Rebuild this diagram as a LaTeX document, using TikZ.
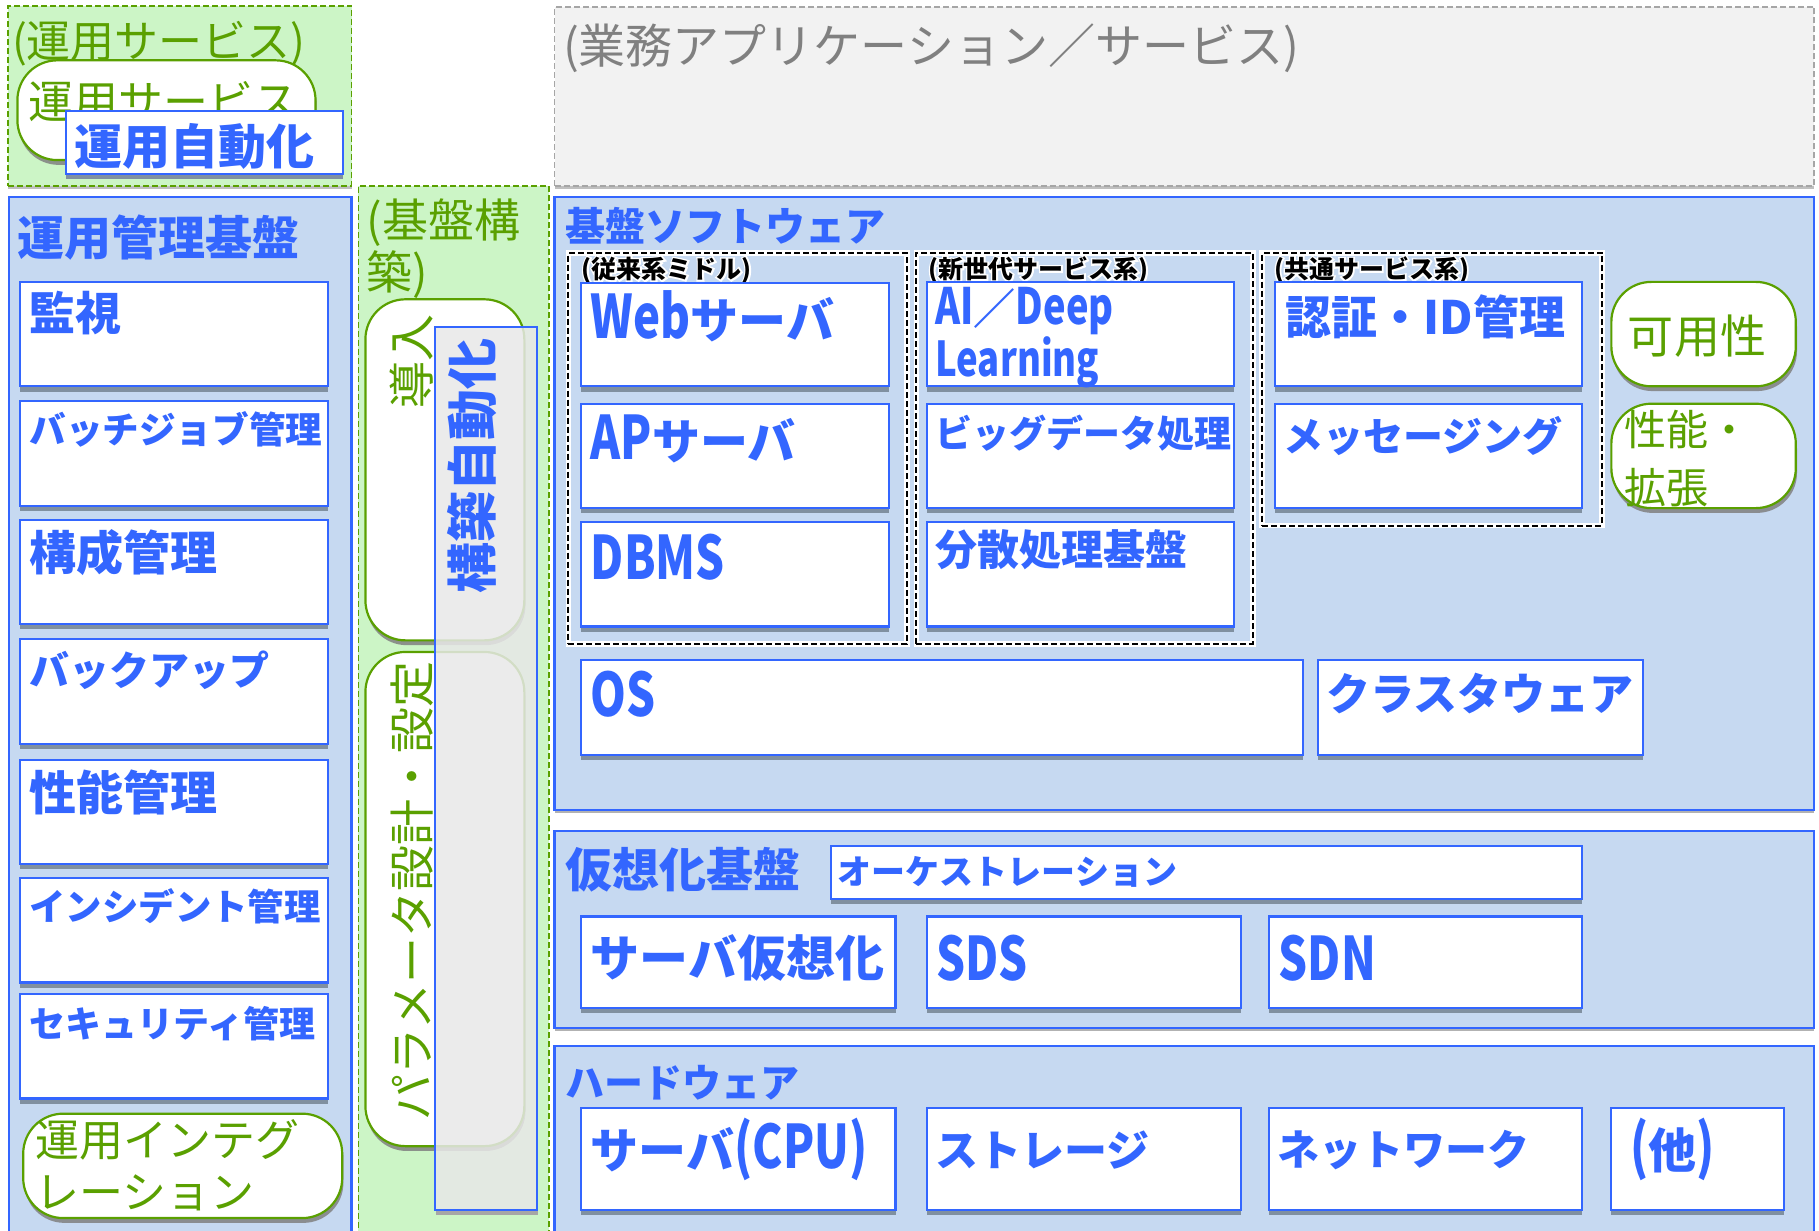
\documentclass[tikz,border=0pt]{standalone}
\usepackage{fontspec}
\usetikzlibrary{shadows,fit,calc}
\newfontfamily\jp{Noto Sans CJK JP}
\newfontfamily\lat[FakeStretch=0.76]{Noto Sans CJK JP}
\definecolor{mblue}{HTML}{3366FF}
\definecolor{pblue}{HTML}{C6D9F1}
\definecolor{mgreen}{HTML}{5AA000}
\definecolor{pgreen}{HTML}{CCF5C6}
\definecolor{shad}{HTML}{8090A0}
\definecolor{gtxt}{HTML}{808080}
\definecolor{gfill}{HTML}{F2F2F2}
\newcommand\Lt[2][30]{{\lat\bfseries\fontsize{#1}{#1}\selectfont #2}}
\newcommand\halotext[1]{\rlap{\special{pdf:literal direct 1 Tr 1.6 w 1 1 1 RG}#1\special{pdf:literal direct 0 Tr 0 0 0 RG}}#1}
\tikzset{
 panel/.style={draw=mblue, line width=1.1pt, fill=pblue, inner sep=0pt,
   drop shadow={shadow xshift=0pt, shadow yshift=-1.6pt, fill=gray!60, opacity=1}},
 gpanel/.style={draw=mgreen, line width=0.9pt, dash pattern=on 3pt off 1.5pt, fill=pgreen, inner sep=0pt},
 gybox/.style={draw=gray!70, line width=0.9pt, dash pattern=on 3pt off 1.5pt, fill=gfill, inner sep=0pt,
   drop shadow={shadow xshift=0pt, shadow yshift=-1.6pt, fill=gray!50, opacity=1}},
 bbox/.style={draw=mblue, line width=1.1pt, fill=white, inner sep=0pt,
   drop shadow={shadow xshift=0pt, shadow yshift=-2.6pt, fill=shad, opacity=1}},
 rbox/.style={draw=mgreen, line width=1.1pt, fill=white, rounded corners=20pt, inner sep=0pt,
   drop shadow={shadow xshift=0.6pt, shadow yshift=-2.4pt, fill=gray, opacity=0.85}},
 grpbox/.style={draw=black, line width=1pt, dash pattern=on 3pt off 1.5pt, inner sep=0pt,
   preaction={draw=white, line width=2.8pt, solid}},
 bt/.style={anchor=west, inner sep=0pt, text=mblue, font=\jp\bfseries\fontsize{#1}{#1}\selectfont},
 bt/.default=23,
 gt/.style={anchor=west, inner sep=0pt, text=mgreen, font=\jp\fontsize{#1}{#1}\selectfont},
 gt/.default=23,
 grptxt/.style={anchor=west, inner sep=0pt, text=black, font=\jp\bfseries\fontsize{12.5}{12.5}\selectfont},
}
\begin{document}
\begin{tikzpicture}[x=0.58pt,y=-0.58pt]
\useasboundingbox (0,0) rectangle (1568,1061);

% ---------- top left: operation services ----------
\node[gpanel, drop shadow={shadow xshift=0pt, shadow yshift=-1.6pt, fill=gray!50, opacity=1}, fit={(7,5) (303,160)}] (opsv) {};
\node[gt=22] (opsvt) at (10,38) {(運用サービス)};
\node[rbox, fit={(15,52) (272,138)}] (opsvb) {};
\node[gt=22.5] (opsvbt) at (24,88) {運用サービス};
\node[bbox, fit={(57,96) (296,150)}] (opauto) {};
\node[bt=24] (opautot) at (64,126) {運用自動化};

% ---------- top right: business apps ----------
\node[gybox, fit={(478,6) (1564,160)}] (app) {};
\node[anchor=west, inner sep=0pt, text=gtxt, font=\jp\fontsize{23.5}{23.5}\selectfont] (appt) at (485,42) {(業務アプリケーション／サービス)};

% ---------- left: management platform ----------
\node[panel, fit={(8,170) (303,1080)}] (mgmt) {};
\node[bt=23.5] (mgmtt) at (15,205) {運用管理基盤};
\node[bbox, fit={(17,243) (283,333)}] (m1) {};
\node[bt=23] (m1t) at (25,270) {監視};
\node[bbox, fit={(17,346) (283,436)}] (m2) {};
\node[bt=18.3] (m2t) at (25,370) {バッチジョブ管理};
\node[bbox, fit={(17,448) (283,538)}] (m3) {};
\node[bt=23.5] (m3t) at (25,476) {構成管理};
\node[bbox, fit={(17,551) (283,641)}] (m4) {};
\node[bt=20] (m4t) at (25,578) {バックアップ};
\node[bbox, fit={(17,655) (283,745)}] (m5) {};
\node[bt=23.5] (m5t) at (25,683) {性能管理};
\node[bbox, fit={(17,757) (283,847)}] (m6) {};
\node[bt=18.2] (m6t) at (25,781) {インシデント管理};
\node[bbox, fit={(17,857) (283,947)}] (m7) {};
\node[bt=18] (m7t) at (25,882) {セキュリティ管理};
\node[rbox, fit={(20,960) (295,1050)}] (integ) {};
\node[gt=22] (integt1) at (30,983) {運用インテグ};
\node[gt=22] (integt2) at (30,1028) {レーション};

% ---------- middle: build ----------
\node[gpanel, fit={(309,160) (473,1080)}] (build) {};
\node[gt=23] (buildt1) at (316,192) {(基盤構};
\node[gt=23] (buildt2) at (316,237) {築)};
\node[rbox, fit={(315,258) (452,552)}] (intro) {};
\node[gt=23.5, rotate=90, anchor=center] (introt) at (355,312) {導入};
\node[rbox, fit={(315,562) (452,988)}] (param) {};
\node[gt=23, rotate=90, anchor=center] (paramt) at (355,768) {パラメータ設計・設定};
\fill[gray!70] (376,1043) rectangle (464,1047);
\node[draw=mblue, line width=1pt, fill=gray!18, fill opacity=0.85, inner sep=0pt, fit={(375,282) (463,1043)}] (bauto) {};
\node[bt=25.5, rotate=90, anchor=center] (bautot) at (407,402) {構築自動化};

% ---------- base software ----------
\node[panel, fit={(478,170) (1564,698)}] (sw) {};
\node[bt=20] (swt) at (487,195) {基盤ソフトウェア};
\node[grpbox, fit={(490,218) (782,555)}] (g1) {};
\node[grpbox, fit={(790,218) (1080,555)}] (g2) {};
\node[grpbox, fit={(1088,218) (1381,453)}] (g3) {};
\node[grptxt] (g1t) at (501,233) {\halotext{(従来系ミドル)}};
\node[grptxt] (g2t) at (800,233) {\halotext{(新世代サービス系)}};
\node[grptxt] (g3t) at (1098,233) {\halotext{(共通サービス系)}};
\node[bbox, fit={(501,244) (766,333)}] (web) {};
\node[bt=24] (webt) at (509,273) {\Lt{Web}サーバ};
\node[bbox, fit={(501,348) (766,438)}] (ap) {};
\node[bt=24] (apt) at (509,378) {\Lt{AP}サーバ};
\node[bbox, fit={(501,450) (766,540)}] (db) {};
\node[bt=24] (dbt) at (509,480) {\Lt{DBMS}};
\node[bbox, fit={(799,243) (1064,333)}] (ai) {};
\node[bt=21] (ait1) at (806,268) {\Lt[25]{AI}／\Lt[25]{Deep}};
\node[bt=21] (ait2) at (806,312) {\Lt[24]{Learning}};
\node[bbox, fit={(799,348) (1064,438)}] (big) {};
\node[bt=18.5] (bigt) at (806,373) {ビッグデータ処理};
\node[bbox, fit={(799,450) (1064,540)}] (dist) {};
\node[bt=21] (distt) at (806,474) {分散処理基盤};
\node[bbox, fit={(1099,243) (1364,333)}] (auth) {};
\node[bt=23] (autht) at (1108,273) {認証・ID管理};
\node[bbox, fit={(1099,348) (1364,438)}] (msg) {};
\node[bt=20] (msgt) at (1106,376) {メッセージング};
\node[rbox, fit={(1389,243) (1548,333)}] (avail) {};
\node[gt=23] (availt) at (1403,290) {可用性};
\node[rbox, fit={(1389,348) (1548,438)}] (perf) {};
\node[gt=21] (perft1) at (1400,370) {性能・};
\node[gt=21] (perft2) at (1400,420) {拡張};
\node[bbox, fit={(501,569) (1123,651)}] (os) {};
\node[bt=24] (ost) at (509,598) {\Lt{OS}};
\node[bbox, fit={(1136,569) (1416,651)}] (clus) {};
\node[bt=22] (clust) at (1143,598) {クラスタウェア};

% ---------- virtualization ----------
\node[panel, fit={(478,716) (1564,886)}] (virt) {};
\node[bt=23.5] (virtt) at (487,750) {仮想化基盤};
\node[bbox, fit={(716,729) (1364,775)}] (orch) {};
\node[bt=17] (orcht) at (722,752) {オーケストレーション};
\node[bbox, fit={(501,790) (772,869)}] (sv) {};
\node[bt=24.5] (svt) at (509,826) {サーバ仮想化};
\node[bbox, fit={(799,790) (1070,869)}] (sds) {};
\node[bt=26] (sdst) at (807,826) {\Lt{SDS}};
\node[bbox, fit={(1094,790) (1364,869)}] (sdn) {};
\node[bt=26] (sdnt) at (1102,826) {\Lt{SDN}};

% ---------- hardware ----------
\node[panel, fit={(478,902) (1564,1080)}] (hw) {};
\node[bt=19.5] (hwt) at (487,933) {ハードウェア};
\node[bbox, fit={(501,955) (772,1043)}] (cpu) {};
\node[bt=24] (cput) at (509,991) {サーバ\Lt{(CPU)}};
\node[bbox, fit={(799,955) (1070,1043)}] (stor) {};
\node[bt=21.5] (stort) at (806,991) {ストレージ};
\node[bbox, fit={(1094,955) (1364,1043)}] (net) {};
\node[bt=21] (nett) at (1101,991) {ネットワーク};
\node[bbox, fit={(1389,955) (1538,1043)}] (oth) {};
\node[bt=24] (otht) at (1405,991) {\Lt{(}他\Lt{)}};
\end{tikzpicture}
\end{document}
